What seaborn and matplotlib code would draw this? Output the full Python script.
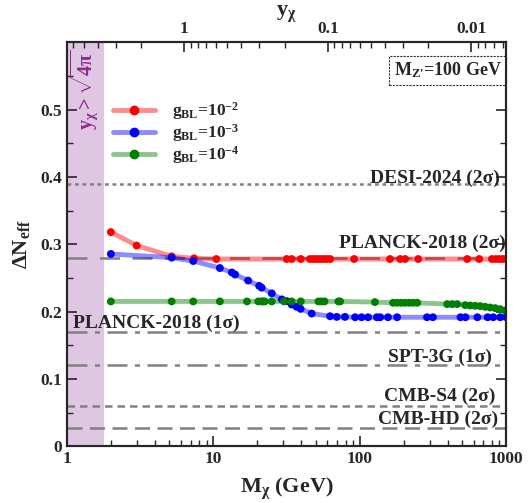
import seaborn as sns
import matplotlib.pyplot as plt
import pandas as pd
import numpy as np
from matplotlib.ticker import FixedLocator, NullFormatter
from matplotlib.legend_handler import HandlerTuple

# data
red_M = [2, 3, 5.2, 7.4, 10.5, 31.7, 34.3, 39.6, 45.8, 48.3, 50.9, 53.6, 56.5, 59.6, 62.8, 91.6,
         161, 189, 204, 251, 542, 655, 800, 850, 900, 950, 1000]
red_y = [0.318, 0.298, 0.282, 0.279, 0.278] + [0.278] * 22

blue_M = [2, 5.2, 7.3, 11.1, 13.4, 14.1, 17.3, 20.6, 21.4, 25.1, 29.4, 31.8, 34.3, 37.1, 39.5,
          47.0, 62.8, 69.7, 79.3, 93, 103, 114, 131, 138, 156, 180, 288, 316, 488, 528, 636,
          747, 816, 911, 1000]
blue_y = [0.2855, 0.280, 0.275, 0.2646, 0.258, 0.255, 0.246, 0.238, 0.2354, 0.227, 0.218,
          0.2154, 0.2104, 0.207, 0.204, 0.197, 0.193, 0.192, 0.192] + [0.1915] * 16

green_M = [2, 5.2, 7.3, 11.1, 17.0, 20.3, 21.4, 21.9, 22.5, 25.1, 30.4, 34.3, 39.6, 52.3, 54.8,
           57.5, 71.5, 73.5, 127, 169, 180, 192, 204, 218, 232, 247, 396, 428, 463, 525, 568,
           615, 665, 719, 778, 842, 911, 986]
green_y = [0.215] * 18 + [0.214] + [0.213] * 7 + [0.211] * 3 + \
          [0.2095, 0.209, 0.2085, 0.208, 0.207, 0.206, 0.205, 0.2035, 0.2015]

bounds = ['DESI-2024 (2σ)', 'PLANCK-2018 (2σ)', 'PLANCK-2018 (1σ)', 'SPT-3G (1σ)',
          'CMB-S4 (2σ)', 'CMB-HD (2σ)']
bound_vals = [0.39, 0.28, 0.17, 0.12, 0.06, 0.027]
bound_ls = [(0, (1.5, 1.5)), (0, (8, 5)), (0, (8, 3, 2, 3)), (0, (8, 3, 2, 3)),
            (0, (3, 2)), (0, (6, 3))]

top_ticks = [1, 0.1, 0.01]
top_labels = ['1', '0.1', '0.01']

series = {'g$_{\\rm BL}$=10$^{-2}$': (red_M, red_y, 'red'),
          'g$_{\\rm BL}$=10$^{-3}$': (blue_M, blue_y, 'blue'),
          'g$_{\\rm BL}$=10$^{-4}$': (green_M, green_y, 'green')}

sns.set_style('ticks')
plt.rcParams['font.family'] = ['Liberation Serif', 'DejaVu Serif']
plt.rcParams['font.weight'] = 'bold'
plt.rcParams['axes.labelweight'] = 'bold'
plt.rcParams['mathtext.fontset'] = 'custom'
plt.rcParams['mathtext.rm'] = 'Liberation Serif:bold'
plt.rcParams['mathtext.it'] = 'Liberation Serif:bold'
plt.rcParams['mathtext.bf'] = 'Liberation Serif:bold'
plt.rcParams['axes.linewidth'] = 1.5

fig = plt.figure(figsize=(5.30, 5.03), dpi=100)
ax = fig.add_axes([0.126, 0.113, 0.829, 0.803])

ax.axvspan(1, 1.8, color='#dfc6e2', lw=0, zorder=0)
ax.text(1.32, 0.53, '$y_\\chi > \\sqrt{4\\pi}$', rotation=90, color='#8e2a8e',
        fontsize=14.5, ha='center', va='center')

for val, ls in zip(bound_vals, bound_ls):
    ax.axhline(val, color='#808080', lw=1.8, ls=ls, zorder=1)

handles = []
for lab, (xs, ys, col) in series.items():
    df = pd.DataFrame({'M': xs, 'dN': ys})
    sns.lineplot(data=df, x='M', y='dN', color=col, alpha=0.45, lw=3.5, ax=ax, zorder=2)
    sns.scatterplot(data=df, x='M', y='dN', color=col, s=32, edgecolor='none', ax=ax, zorder=3)
    handles.append((plt.Line2D([], [], color=col, lw=3.5, alpha=0.45),
                    plt.Line2D([], [], color=col, marker='o', ls='none', ms=6)))

ax.legend(handles, list(series.keys()), handler_map={tuple: HandlerTuple(ndivide=1)},
          loc='upper left', bbox_to_anchor=(0.07, 0.895), frameon=False, fontsize=12.5,
          handlelength=2.4, handletextpad=1.0, labelspacing=0.0)

# label anchor: (M of text edge, baseline offset above line, alignment)
lab_pos = [(910, 0.001, 'right'), (986, 0.015, 'right'), (1.1, 0.005, 'left'),
           (804, 0.005, 'right'), (842, 0.007, 'right'), (883, 0.006, 'right')]
for name, val, (x, dy, ha) in zip(bounds, bound_vals, lab_pos):
    ax.text(x, val + dy, name, fontsize=14, ha=ha, va='baseline', zorder=4)

ax.text(0.99, 0.955, 'M$_{\\rm Z\u2032}$=100 GeV', transform=ax.transAxes,
        fontsize=13, ha='right', va='top',
        bbox=dict(boxstyle='square,pad=0.25', fc='white', ec='#333333', ls=(0, (2, 1)), lw=0.8))

ax.set_xscale('log')
ax.set_xlim(1, 1000)
ax.set_ylim(0, 0.6)
ax.set_xticks([1, 10, 100, 1000], ['1', '10', '100', '1000'])
ax.set_yticks([0, 0.1, 0.2, 0.3, 0.4, 0.5], ['0', '0.1', '0.2', '0.3', '0.4', '0.5'])
ax.set_yticks(np.arange(0.05, 0.6, 0.1), minor=True)
ax.tick_params(which='both', direction='in', top=False, right=True, labelsize=12.5)
ax.tick_params(which='major', length=7, width=1.2)
ax.tick_params(which='minor', length=4, width=1)
ax.set_xlabel('M$_\\chi$ (GeV)', fontsize=16, labelpad=6)
ax.set_ylabel('ΔN$_{\\rm eff}$', fontsize=16, labelpad=6)


# y_chi on the top axis
def m_of_y(y):
    return 10 ** (0.802 - np.log10(y) / 1.02)


ax2 = ax.twiny()
ax2.set_xscale('log')
ax2.set_xlim(ax.get_xlim())
ax2.set_xticks([m_of_y(t) for t in top_ticks], top_labels)
minor_y = [k * 10.0 ** n for n in range(-3, 1) for k in range(2, 10)]
minor_m = [m_of_y(t) for t in minor_y if 1 <= m_of_y(t) <= 1000]
ax2.xaxis.set_minor_locator(FixedLocator(minor_m))
ax2.xaxis.set_minor_formatter(NullFormatter())
ax2.tick_params(which='both', direction='in', labelsize=12.5)
ax2.tick_params(which='major', length=7, width=1.2)
ax2.tick_params(which='minor', length=4, width=1)
ax2.set_xlabel('y$_\\chi$', fontsize=16, labelpad=4)

fig.savefig('out.png', dpi=100)
